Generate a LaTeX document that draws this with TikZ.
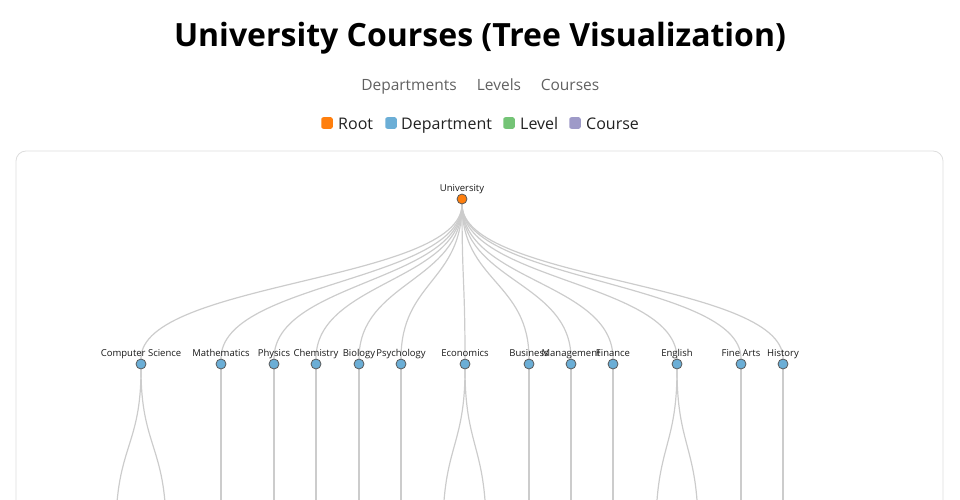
\documentclass[tikz,border=0pt]{standalone}
\usepackage{fontspec}
\setmainfont{Open Sans}
\usetikzlibrary{positioning,backgrounds}

\definecolor{rootc}{HTML}{FF7F0E}
\definecolor{deptc}{HTML}{6BAED6}
\definecolor{levelc}{HTML}{74C476}
\definecolor{coursec}{HTML}{9E9AC8}
\definecolor{linkc}{HTML}{CCCCCC}
\definecolor{cardc}{HTML}{DDDDDD}

\tikzset{
  dot/.style={circle, draw=black!65, line width=0.8pt, minimum size=10pt, inner sep=0pt},
  lab/.style={font=\fontsize{9.5}{11}\selectfont, text=black!90, inner sep=0pt, text height=7.5pt, text depth=2.5pt},
  link/.style={draw=linkc, line width=1.2pt},
  key/.style={rounded corners=2pt, minimum size=11.5pt, inner sep=0pt},
  keytext/.style={font=\fontsize{16}{19}\selectfont, text=black!87, anchor=base west, inner sep=0pt},
  menu/.style={font=\fontsize{15.5}{19}\selectfont, text=black!62, anchor=base, inner sep=0pt}
}

\begin{document}
\begin{tikzpicture}[x=1pt, y=-1pt]

    \useasboundingbox (0,0) rectangle (960,500);
    \clip (0,0) rectangle (960,500);

    % heading
    \node[anchor=base, inner sep=0pt] (title) at (480,47) {\fontsize{32}{38}\selectfont\bfseries University Courses (Tree Visualization)};
    \node[menu] (m1) at (409,91) {Departments};
    \node[menu] (m2) at (499,91) {Levels};
    \node[menu] (m3) at (570,91) {Courses};

    % legend
    \node[key, fill=rootc] (k1) at (327,123) {};
    \node[keytext] (t1) at (338,129) {Root};
    \node[key, fill=deptc] (k2) at (391,123) {};
    \node[keytext] (t2) at (401,129) {Department};
    \node[key, fill=levelc] (k3) at (509,123) {};
    \node[keytext] (t3) at (520,129) {Level};
    \node[key, fill=coursec] (k4) at (575,123) {};
    \node[keytext] (t4) at (586,129) {Course};

    % card
    \draw[cardc, line width=0.8pt, rounded corners=10pt] (16,560) -- (16,151) -- (943,151) -- (943,560);

    % root and departments
    \node[dot, fill=rootc] (root) at (462,199) {};
    \node[lab, above=-1pt of root] {University};

    \node[dot, fill=deptc] (cs) at (141,364) {};
    \node[dot, fill=deptc] (math) at (221,364) {};
    \node[dot, fill=deptc] (phys) at (274,364) {};
    \node[dot, fill=deptc] (chem) at (316,364) {};
    \node[dot, fill=deptc] (bio) at (359,364) {};
    \node[dot, fill=deptc] (psych) at (401,364) {};
    \node[dot, fill=deptc] (econ) at (465,364) {};
    \node[dot, fill=deptc] (bus) at (529,364) {};
    \node[dot, fill=deptc] (mgmt) at (571,364) {};
    \node[dot, fill=deptc] (fin) at (613,364) {};
    \node[dot, fill=deptc] (eng) at (677,364) {};
    \node[dot, fill=deptc] (arts) at (741,364) {};
    \node[dot, fill=deptc] (hist) at (783,364) {};

    \node[lab, above=-1pt of cs] {Computer Science};
    \node[lab, above=-1pt of math] {Mathematics};
    \node[lab, above=-1pt of phys] {Physics};
    \node[lab, above=-1pt of chem] {Chemistry};
    \node[lab, above=-1pt of bio] {Biology};
    \node[lab, above=-1pt of psych] {Psychology};
    \node[lab, above=-1pt of econ] {Economics};
    \node[lab, above=-1pt of bus] {Business};
    \node[lab, above=-1pt of mgmt] {Management};
    \node[lab, above=-1pt of fin] {Finance};
    \node[lab, above=-1pt of eng] {English};
    \node[lab, above=-1pt of arts] {Fine Arts};
    \node[lab, above=-1pt of hist] {History};

    % levels (below the visible area)
    \coordinate (csA) at (116,529);
    \coordinate (csB) at (166,529);
    \coordinate (mathA) at (221,529);
    \coordinate (physA) at (274,529);
    \coordinate (chemA) at (316,529);
    \coordinate (bioA) at (359,529);
    \coordinate (psychA) at (401,529);
    \coordinate (econA) at (443,529);
    \coordinate (econB) at (486,529);
    \coordinate (busA) at (529,529);
    \coordinate (mgmtA) at (571,529);
    \coordinate (finA) at (613,529);
    \coordinate (engA) at (656,529);
    \coordinate (engB) at (698,529);
    \coordinate (artsA) at (741,529);
    \coordinate (histA) at (783,529);

    \begin{scope}[on background layer]
    \foreach \d in {cs,math,phys,chem,bio,psych,econ,bus,mgmt,fin,eng,arts,hist}
        \draw[link] (root) .. controls +(0,82.5) and +(0,-82.5) .. (\d);
    \foreach \d/\l in {cs/csA,cs/csB,math/mathA,phys/physA,chem/chemA,bio/bioA,psych/psychA,econ/econA,econ/econB,bus/busA,mgmt/mgmtA,fin/finA,eng/engA,eng/engB,arts/artsA,hist/histA}
        \draw[link] (\d) .. controls +(0,82.5) and +(0,-82.5) .. (\l);
    \end{scope}

\end{tikzpicture}
\end{document}
